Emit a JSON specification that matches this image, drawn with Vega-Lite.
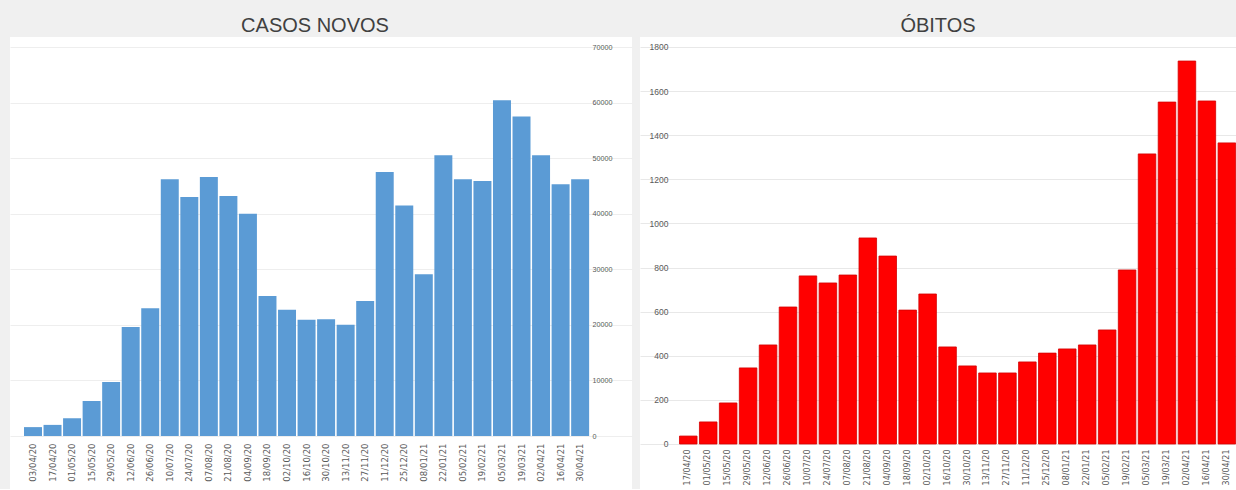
{
  "$schema": "https://vega.github.io/schema/vega-lite/v6.json",
  "background": "#f0f0f0",
  "padding": {"left": 10, "top": 16, "right": 0, "bottom": 0},
  "spacing": 8,
  "datasets": {
    "casos": [
      {"data": "03/04/20", "casos": 1600},
      {"data": "17/04/20", "casos": 2000},
      {"data": "01/05/20", "casos": 3200},
      {"data": "15/05/20", "casos": 6300},
      {"data": "29/05/20", "casos": 9700},
      {"data": "12/06/20", "casos": 19600},
      {"data": "26/06/20", "casos": 23000},
      {"data": "10/07/20", "casos": 46200},
      {"data": "24/07/20", "casos": 43000},
      {"data": "07/08/20", "casos": 46600},
      {"data": "21/08/20", "casos": 43200},
      {"data": "04/09/20", "casos": 40000},
      {"data": "18/09/20", "casos": 25200},
      {"data": "02/10/20", "casos": 22700},
      {"data": "16/10/20", "casos": 20900},
      {"data": "30/10/20", "casos": 21000},
      {"data": "13/11/20", "casos": 20000},
      {"data": "27/11/20", "casos": 24300},
      {"data": "11/12/20", "casos": 47500},
      {"data": "25/12/20", "casos": 41500},
      {"data": "08/01/21", "casos": 29100},
      {"data": "22/01/21", "casos": 50500},
      {"data": "05/02/21", "casos": 46200},
      {"data": "19/02/21", "casos": 45900},
      {"data": "05/03/21", "casos": 60400},
      {"data": "19/03/21", "casos": 57500},
      {"data": "02/04/21", "casos": 50500},
      {"data": "16/04/21", "casos": 45300},
      {"data": "30/04/21", "casos": 46200}
    ],
    "obitos": [
      {"data": "17/04/20", "obitos": 36},
      {"data": "01/05/20", "obitos": 100},
      {"data": "15/05/20", "obitos": 186},
      {"data": "29/05/20", "obitos": 345},
      {"data": "12/06/20", "obitos": 449},
      {"data": "26/06/20", "obitos": 621},
      {"data": "10/07/20", "obitos": 762},
      {"data": "24/07/20", "obitos": 730},
      {"data": "07/08/20", "obitos": 766},
      {"data": "21/08/20", "obitos": 934},
      {"data": "04/09/20", "obitos": 852},
      {"data": "18/09/20", "obitos": 607},
      {"data": "02/10/20", "obitos": 680},
      {"data": "16/10/20", "obitos": 440},
      {"data": "30/10/20", "obitos": 354},
      {"data": "13/11/20", "obitos": 322},
      {"data": "27/11/20", "obitos": 322},
      {"data": "11/12/20", "obitos": 372},
      {"data": "25/12/20", "obitos": 412},
      {"data": "08/01/21", "obitos": 431},
      {"data": "22/01/21", "obitos": 449},
      {"data": "05/02/21", "obitos": 517},
      {"data": "19/02/21", "obitos": 789},
      {"data": "05/03/21", "obitos": 1315},
      {"data": "19/03/21", "obitos": 1550},
      {"data": "02/04/21", "obitos": 1736},
      {"data": "16/04/21", "obitos": 1555},
      {"data": "30/04/21", "obitos": 1365}
    ]
  },
  "config": {
    "view": {"fill": "white", "stroke": null},
    "title": {"font": "Liberation Sans", "fontSize": 20, "fontWeight": "normal", "color": "#404040", "offset": 1},
    "axis": {"title": null, "domain": false, "ticks": false, "labelColor": "#595959", "labelFont": "DejaVu Sans"}
  },
  "hconcat": [
    {
      "title": {"text": "CASOS NOVOS", "dx": -6},
      "width": 622,
      "height": 452,
      "data": {"name": "casos"},
      "mark": {"type": "bar", "color": "#5b9bd5"},
      "encoding": {
        "x": {
          "field": "data", "type": "nominal", "sort": null,
          "scale": {
            "domain": ["03/04/20", "17/04/20", "01/05/20", "15/05/20", "29/05/20", "12/06/20", "26/06/20", "10/07/20", "24/07/20", "07/08/20", "21/08/20", "04/09/20", "18/09/20", "02/10/20", "16/10/20", "30/10/20", "13/11/20", "27/11/20", "11/12/20", "25/12/20", "08/01/21", "22/01/21", "05/02/21", "19/02/21", "05/03/21", "19/03/21", "02/04/21", "16/04/21", "30/04/21", " "],
            "paddingInner": 0.08, "paddingOuter": 0.955, "align": 0.375
          },
          "axis": {
            "orient": "bottom", "offset": -53, "labelAngle": 270, "labelFontSize": 8.5, "labelPadding": 7, "grid": false,
            "values": ["03/04/20", "17/04/20", "01/05/20", "15/05/20", "29/05/20", "12/06/20", "26/06/20", "10/07/20", "24/07/20", "07/08/20", "21/08/20", "04/09/20", "18/09/20", "02/10/20", "16/10/20", "30/10/20", "13/11/20", "27/11/20", "11/12/20", "25/12/20", "08/01/21", "22/01/21", "05/02/21", "19/02/21", "05/03/21", "19/03/21", "02/04/21", "16/04/21", "30/04/21"]
          }
        },
        "y": {
          "field": "casos", "type": "quantitative",
          "scale": {"domain": [-9537, 71800], "nice": false, "zero": false},
          "axis": {"orient": "right", "offset": -40, "labelPadding": 0, "labelFontSize": 7.2, "labelFont": "Liberation Sans", "format": "d", "values": [0, 10000, 20000, 30000, 40000, 50000, 60000, 70000], "grid": true, "gridColor": "#eeeeee", "labelAlign": "left"}
        },
        "y2": {"datum": 0}
      }
    },
    {
      "title": {"text": "ÓBITOS", "dx": 0},
      "width": 596,
      "height": 452,
      "data": {"name": "obitos"},
      "mark": {"type": "bar", "color": "#ff0000", "stroke": "#d40000", "strokeWidth": 0.8},
      "encoding": {
        "x": {
          "field": "data", "type": "nominal", "sort": null,
          "scale": {"paddingInner": 0.12, "paddingOuter": 1, "align": 0.99},
          "axis": {"orient": "bottom", "offset": -45, "labelAngle": 270, "labelFontSize": 8, "labelPadding": 5, "grid": false}
        },
        "y": {
          "field": "obitos", "type": "quantitative",
          "scale": {"domain": [-204, 1845], "nice": false, "zero": false},
          "axis": {"orient": "left", "offset": -28, "labelPadding": 0, "labelFontSize": 8.5, "labelFont": "Liberation Sans", "format": "d", "values": [0, 200, 400, 600, 800, 1000, 1200, 1400, 1600, 1800], "grid": true, "gridColor": "#e8e8e8"}
        },
        "y2": {"datum": 0}
      }
    }
  ]
}
